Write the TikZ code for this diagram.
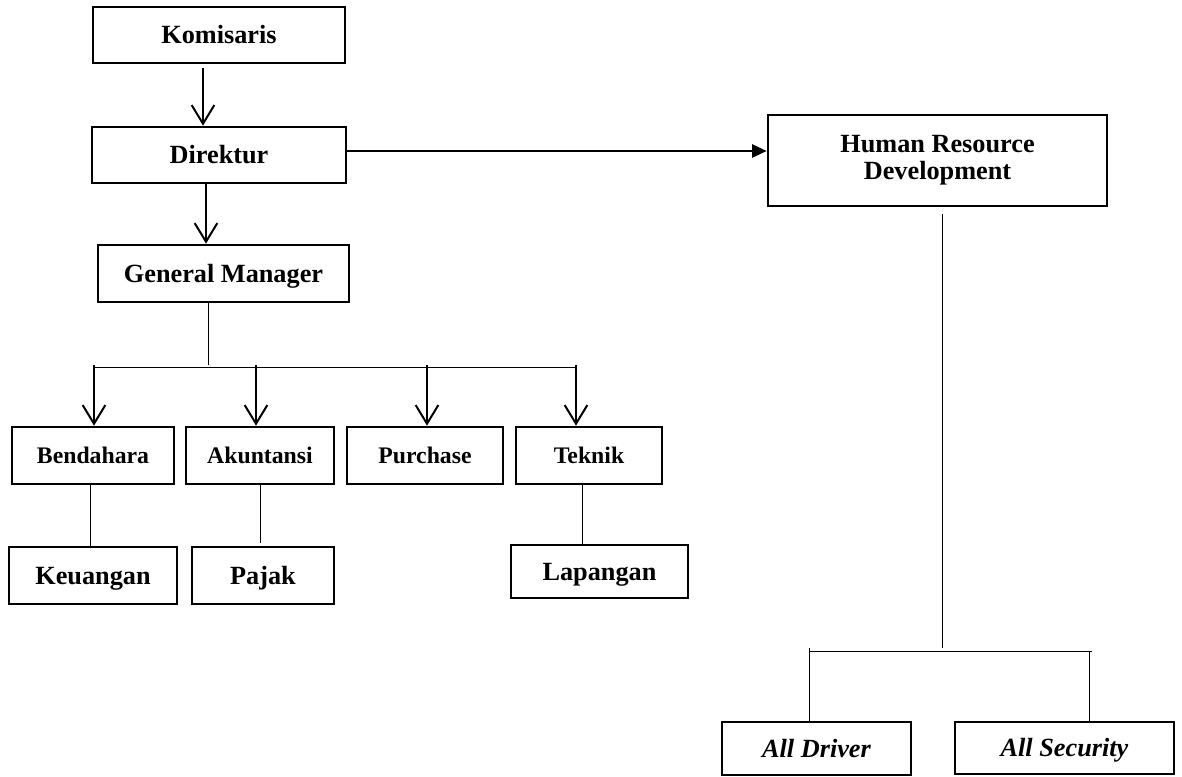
\documentclass[tikz,border=0pt]{standalone}
\usepackage{fontspec}
\setmainfont{Liberation Serif}
\usetikzlibrary{arrows.meta}
\tikzset{
  basebox/.style={draw, line width=2pt, inner sep=0pt, align=center,
    font=\bfseries\fontsize{19.7}{20.5}\selectfont},
  box/.style={basebox, text height=13pt, text depth=0pt},
  sbox/.style={basebox, font=\bfseries\fontsize{17.8}{19}\selectfont, text height=11.8pt, text depth=0pt},
  ibox/.style={box, font=\bfseries\itshape\fontsize{19.7}{20.5}\selectfont},
  wh/.style 2 args={minimum width=#1*0.75pt, minimum height=#2*0.75pt},
  arr/.style={line width=1.5pt, -{Straight Barb[length=14pt, width=17pt, line width=1.5pt]}},
  farr/.style={line width=1.5pt, -{Triangle[length=11pt, width=10pt]}},
  thin line/.style={line width=0.75pt}
}
\begin{document}
\begin{tikzpicture}[x=0.75pt, y=-0.75pt]
\useasboundingbox (0,0) rectangle (1182,776);
% top chain
\node[box, wh={252}{56}] (kom) at (219,35) {Komisaris};
\node[box, wh={254}{56}] (dir) at (219,155) {Direktur};
\node[box, wh={251}{57}] (gm) at (223.5,273.5) {General Manager};
% second level
\node[sbox, wh={162}{57}] (ben) at (93,455.5) {Bendahara};
\node[sbox, wh={148}{57}] (aku) at (260,455.5) {Akuntansi};
\node[sbox, wh={156}{57}] (pur) at (425,455.5) {Purchase};
\node[sbox, wh={146}{57}] (tek) at (589,455.5) {Teknik};
% third level
\node[box, wh={168}{57}] (keu) at (93,575.5) {Keuangan};
\node[box, wh={142}{57}] (paj) at (263,575.5) {Pajak};
\node[box, wh={177}{53}] (lap) at (599.5,571.5) {Lapangan};
% HRD
\node[basebox, wh={339}{91}] (hrd) at (937.5,160.5) {Human Resource\\Development};
\node[ibox, wh={189}{53}] (drv) at (816.5,748.5) {All Driver};
\node[ibox, wh={219}{52}] (sec) at (1064.5,748) {All Security};
% junction coordinates
\coordinate (gmj) at (208,365);
\coordinate (bl) at (94,367);
\coordinate (br) at (577,367);
\coordinate (hj) at (942,648);
\coordinate (hl) at (809,651);
\coordinate (hr) at (1092,651);
% connectors top
\draw[arr] ([yshift=-3pt]kom.south -| 203,0) -- (dir.north -| 203,0);
\draw[arr] (dir.south -| 206,0) -- (gm.north -| 206,0);
\draw[farr] (dir.east |- 0,151) -- (hrd.west |- 0,151);
% GM branches
\draw[thin line] (gm.south -| gmj) -- (gmj);
\draw[thin line] (bl) -- (br);
\draw[arr] (94,365) -- (ben.north -| 94,0);
\draw[arr] (256,365) -- (aku.north -| 256,0);
\draw[arr] (427,365) -- (pur.north -| 427,0);
\draw[arr] (576,365) -- (tek.north -| 576,0);
% lower links
\draw[thin line] (ben.south -| 90,0) -- (keu.north -| 90,0);
\draw[thin line] (aku.south -| 260,0) -- ([yshift=2pt]paj.north -| 260,0);
\draw[thin line] (tek.south -| 582,0) -- (lap.north -| 582,0);
% HRD branches
\draw[thin line] ([yshift=-5pt]hrd.south -| hj) -- (hj);
\draw[thin line] (hl) -- (hr);
\draw[thin line] (809,648) -- (drv.north -| 809,0);
\draw[thin line] (1089,651) -- (sec.north -| 1089,0);
\end{tikzpicture}
\end{document}
